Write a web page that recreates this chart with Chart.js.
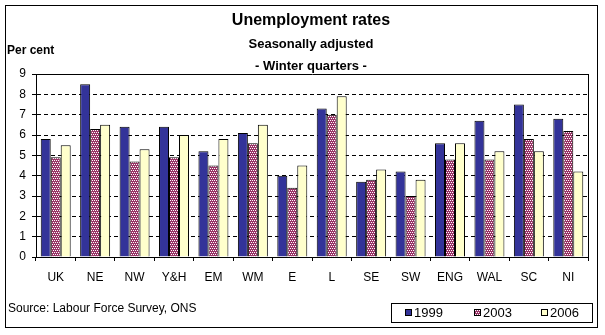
<!DOCTYPE html>
<html>
<head>
<meta charset="utf-8">
<script src="https://cdn.jsdelivr.net/npm/chart.js@4.4.0/dist/chart.umd.min.js"></script>
<style>
  html, body { margin: 0; padding: 0; background: #fff; }
</style>
</head>
<body>
<canvas id="chart" width="605" height="335"></canvas>
<script>
// Unemployment rates by region, winter quarters (per cent)
const regions = ['UK', 'NE', 'NW', 'Y&H', 'EM', 'WM', 'E', 'L', 'SE', 'SW', 'ENG', 'WAL', 'SC', 'NI'];
const rates1999 = [5.8, 8.5, 6.4, 6.4, 5.2, 6.1, 4.0, 7.3, 3.7, 4.2, 5.6, 6.7, 7.5, 6.8];
const rates2003 = [4.9, 6.3, 4.7, 4.9, 4.5, 5.6, 3.4, 7.0, 3.8, 3.0, 4.8, 4.8, 5.8, 6.2];
const rates2006 = [5.5, 6.5, 5.3, 6.0, 5.8, 6.5, 4.5, 7.9, 4.3, 3.8, 5.6, 5.2, 5.2, 4.2];
const yearLabels = ['1999', '2003', '2006'];
const yTicks = [0, 1, 2, 3, 4, 5, 6, 7, 8, 9];

const FONT = '"Liberation Sans", Arial, sans-serif';
Chart.defaults.font.family = FONT;
Chart.defaults.color = '#000';

const canvas = document.getElementById('chart');
const ctx = canvas.getContext('2d');

// dotted fill used for the 2003 bars (dark with staggered light dots)
function checker() {
  const tile = document.createElement('canvas');
  tile.width = 4;
  tile.height = 4;
  const g = tile.getContext('2d');
  g.fillStyle = '#993366';
  g.fillRect(0, 0, 4, 4);
  g.fillStyle = '#ffffff';
  [[0, 0], [2, 0], [1, 2], [3, 2]].forEach(p => g.fillRect(p[0], p[1], 1, 1));
  return ctx.createPattern(tile, 'repeat');
}
const fills = ['#333399', checker(), '#ffffcc'];

// frame, titles, source note and boxed legend
const decorations = {
  id: 'decorations',
  beforeDraw(chart) {
    const c = chart.ctx;
    c.save();
    c.fillStyle = '#fff';
    c.fillRect(0, 0, chart.width, chart.height);
    c.restore();
  },
  afterDraw(chart) {
    const c = chart.ctx;
    const a = chart.chartArea;
    c.save();
    c.strokeStyle = '#000';
    c.lineWidth = 1;
    // outer border
    c.strokeRect(5.5, 5.5, 592, 322);
    // right edge of plot area
    c.beginPath();
    c.moveTo(Math.round(a.right) + 0.5, Math.round(a.top));
    c.lineTo(Math.round(a.right) + 0.5, Math.round(a.bottom));
    c.stroke();

    c.fillStyle = '#000';
    c.textAlign = 'center';
    c.textBaseline = 'middle';
    c.font = 'bold 16px ' + FONT;
    c.fillText('Unemployment rates', 311, 21);
    c.font = 'bold 13px ' + FONT;
    c.fillText('Seasonally adjusted', 311, 44);
    c.fillText('- Winter quarters -', 311, 66);

    c.textAlign = 'left';
    c.font = 'bold 12px ' + FONT;
    c.fillText('Per cent', 7, 51);
    c.font = '12px ' + FONT;
    c.fillText('Source: Labour Force Survey, ONS', 8, 309);

    // legend
    c.strokeRect(391.5, 303.5, 201, 19);
    const markX = [405, 474, 541];
    chart.data.datasets.forEach((ds, i) => {
      c.fillStyle = ds.backgroundColor;
      c.fillRect(markX[i], 309, 7, 7);
      c.strokeRect(markX[i] + 0.5, 309.5, 6, 6);
      c.fillStyle = '#000';
      c.font = '13px ' + FONT;
      c.fillText(ds.label, markX[i] + 9, 313);
    });
    c.restore();
  }
};

new Chart(ctx, {
  type: 'bar',
  data: {
    labels: regions,
    datasets: [
      { label: yearLabels[0], data: rates1999, backgroundColor: fills[0] },
      { label: yearLabels[1], data: rates2003, backgroundColor: fills[1] },
      { label: yearLabels[2], data: rates2006, backgroundColor: fills[2] }
    ]
  },
  options: {
    responsive: false,
    animation: false,
    layout: { padding: { top: 74, right: 17, bottom: 0, left: 0 } },
    datasets: {
      bar: {
        borderColor: '#000',
        borderWidth: 1,
        categoryPercentage: 0.76,
        barPercentage: 1
      }
    },
    plugins: {
      legend: { display: false },
      tooltip: { enabled: false }
    },
    scales: {
      x: {
        grid: { offset: true, drawOnChartArea: false, color: '#000', tickLength: 4 },
        border: { color: '#000' },
        ticks: { font: { size: 12 }, padding: 9, maxRotation: 0, autoSkip: false },
        afterFit(scale) { scale.height = 78; }
      },
      y: {
        min: yTicks[0],
        max: yTicks[yTicks.length - 1],
        afterBuildTicks(scale) { scale.ticks = yTicks.map(v => ({ value: v })); },
        ticks: { font: { size: 12 }, padding: 6 },
        grid: { color: '#000', tickLength: 4 },
        border: {
          color: '#000',
          dash: (c) => (c.tick && c.tick.value > 0 && c.tick.value < 9 ? [4, 3] : [])
        },
        afterFit(scale) { scale.width = 36; }
      }
    }
  },
  plugins: [decorations]
});
</script>
</body>
</html>
